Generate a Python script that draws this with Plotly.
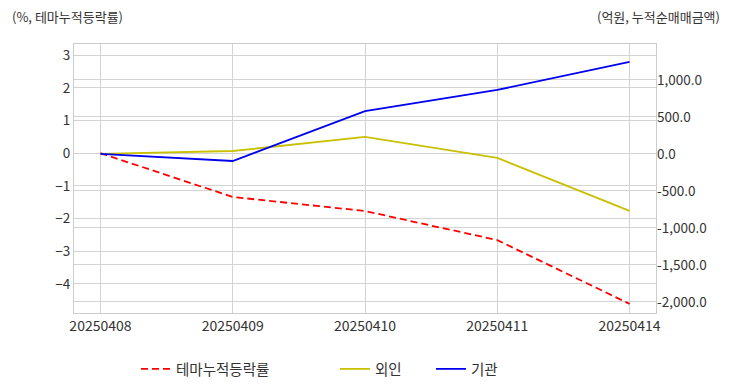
import plotly.graph_objects as go

dates = ["20250408", "20250409", "20250410", "20250411", "20250414"]
theme_rate = [0.0, -1.34, -1.77, -2.66, -4.61]
foreign = [0.0, 40.0, 230.0, -54.0, -770.0]
institution = [0.0, -95.0, 580.0, 865.0, 1243.0]

left_ticks = [-4, -3, -2, -1, 0, 1, 2, 3]
right_ticks = [-2000, -1500, -1000, -500, 0, 500, 1000]
right_labels = [f"{v:,.1f}" for v in right_ticks]

font_family = "Noto Sans CJK KR, Noto Sans, sans-serif"
txt = "#333333"
grid = "#d3d3d3"

fig = go.Figure()
fig.add_trace(go.Scatter(x=dates, y=theme_rate, name="테마누적등락률", mode="lines",
                         line=dict(color="#ff0000", width=1.8, dash="7px,4px"), yaxis="y",
                         legend="legend"))
fig.add_trace(go.Scatter(x=dates, y=foreign, name="외인", mode="lines",
                         line=dict(color="#c8c000", width=1.8), yaxis="y2",
                         legend="legend2"))
fig.add_trace(go.Scatter(x=dates, y=institution, name="기관", mode="lines",
                         line=dict(color="#0000ee", width=1.8), yaxis="y2",
                         legend="legend3"))

leg_common = dict(orientation="h", y=-0.208, yanchor="middle", xanchor="left",
                  font=dict(size=14.5, color=txt), itemwidth=30, bgcolor="rgba(0,0,0,0)")

fig.update_layout(
    width=732, height=392,
    margin=dict(l=74, r=76, t=44, b=79, autoexpand=False),
    plot_bgcolor="white", paper_bgcolor="white",
    font=dict(family=font_family, size=13, color=txt),
    xaxis=dict(type="category", range=[-0.2, 4.2], showgrid=True, gridcolor=grid,
               showline=True, linecolor="#cccccc", mirror=True, ticks="", automargin=False,
               tickfont=dict(size=14, color=txt)),
    yaxis=dict(range=[-4.89, 3.34], tickvals=left_ticks, showgrid=True, gridcolor=grid,
               zeroline=False, showline=True, linecolor="#cccccc", mirror=True,
               automargin=False, tickfont=dict(size=13.5, color=txt)),
    yaxis2=dict(overlaying="y", side="right", range=[-2149, 1486], tickvals=right_ticks,
                ticktext=right_labels, showgrid=True, gridcolor=grid, zeroline=False,
                automargin=False, tickfont=dict(size=13.5, color=txt)),
    legend=dict(x=(136 - 74) / 582, **leg_common),
    legend2=dict(x=(335 - 74) / 582, **leg_common),
    legend3=dict(x=(431 - 74) / 582, **leg_common),
    showlegend=True,
)

fig.add_annotation(text="(%, 테마누적등락률)", xref="paper", yref="paper", x=(10 - 74) / 582,
                   y=1.104, xanchor="left", yanchor="middle", showarrow=False,
                   font=dict(size=13, color=txt))
fig.add_annotation(text="(억원, 누적순매매금액)", xref="paper", yref="paper", x=(722 - 74) / 582,
                   y=1.104, xanchor="right", yanchor="middle", showarrow=False,
                   font=dict(size=13, color=txt))

fig.write_html("out.html", config={"displayModeBar": False},
               post_script="document.body.style.margin='0';document.body.style.overflow='hidden';")
